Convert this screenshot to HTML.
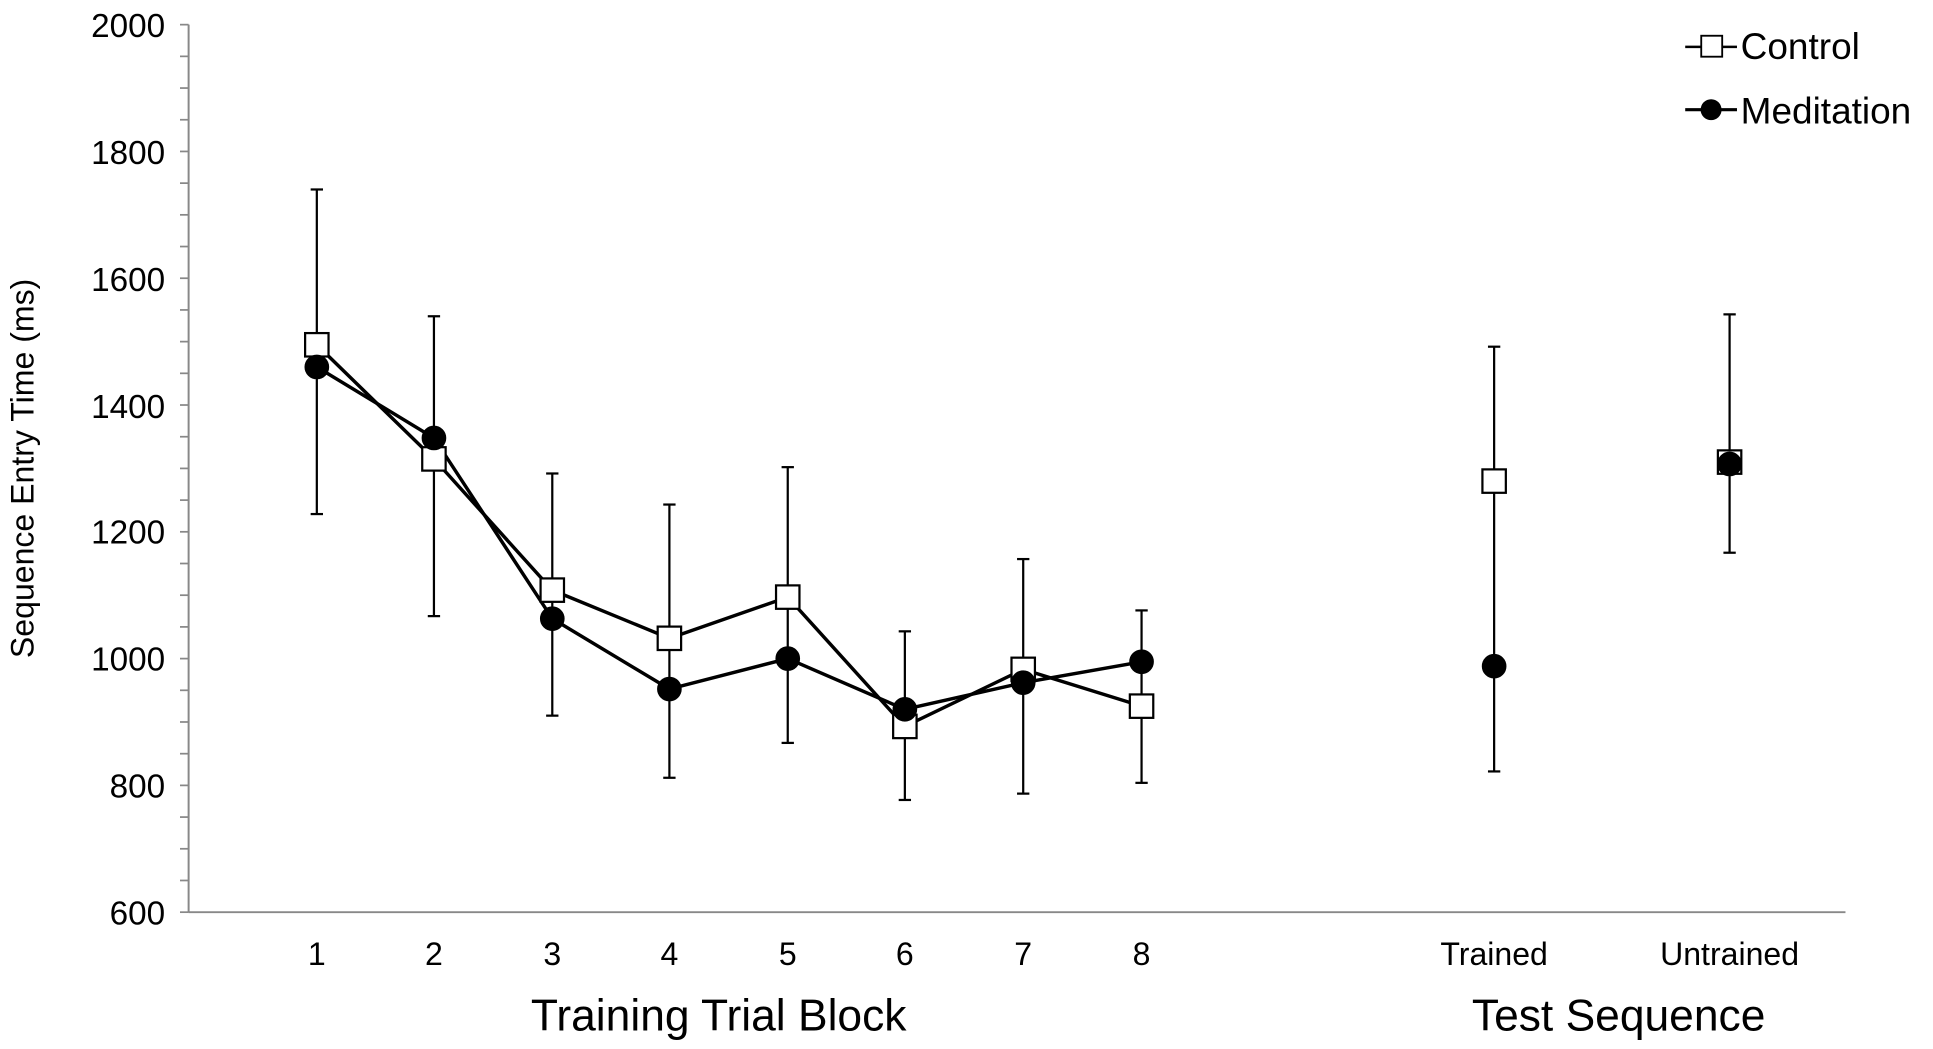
<!DOCTYPE html>
<html><head><style>html,body{margin:0;padding:0;background:#fff;}svg{display:block}</style></head>
<body>
<svg width="1933" height="1049" viewBox="0 0 1568 851" preserveAspectRatio="none" xmlns="http://www.w3.org/2000/svg" font-family="Liberation Sans, Arial, sans-serif">
<g stroke="#888" stroke-width="1.6">
<line x1="153" y1="20" x2="153" y2="740"/>
<line x1="153" y1="740" x2="1497" y2="740"/>
</g>
<g stroke="#888" stroke-width="1.4" id="ticks">
</g>
<g font-size="27" text-anchor="end" fill="#000">
<text x="134" y="30">2000</text><text x="134" y="133">1800</text><text x="134" y="236">1600</text><text x="134" y="339">1400</text><text x="134" y="441">1200</text><text x="134" y="544">1000</text><text x="134" y="647">800</text><text x="134" y="750">600</text>
</g>
<text transform="translate(27,380) rotate(-90)" font-size="26" text-anchor="middle">Sequence Entry Time (ms)</text>
<g font-size="26" text-anchor="middle">
<text x="257" y="783">1</text><text x="352" y="783">2</text><text x="448" y="783">3</text><text x="543" y="783">4</text><text x="639" y="783">5</text><text x="734" y="783">6</text><text x="830" y="783">7</text><text x="926" y="783">8</text>
<text x="1212" y="783">Trained</text><text x="1403" y="783">Untrained</text>
</g>
<g font-size="36" text-anchor="middle">
<text x="583" y="836">Training Trial Block</text>
<text x="1313" y="836">Test Sequence</text>
</g>
<g id="data" stroke="#000" stroke-width="2"></g>
<g font-size="30">
<line x1="1367" y1="38" x2="1409" y2="38" stroke="#000" stroke-width="2"/>
<rect x="1380" y="29" width="17" height="17" fill="#fff" stroke="#000" stroke-width="1.5"/>
<text x="1412" y="48">Control</text>
<line x1="1367" y1="89" x2="1409" y2="89" stroke="#000" stroke-width="2.5"/>
<circle cx="1388" cy="89" r="8.5" fill="#000"/>
<text x="1412" y="100">Meditation</text>
</g>
<script>
var ns="http://www.w3.org/2000/svg";
function Y(v){return 20+(2000-v)*720/1400;}
function el(p,t,a){var e=document.createElementNS(ns,t);for(var k in a)e.setAttribute(k,a[k]);p.appendChild(e);return e;}
var tk=document.getElementById("ticks");
for(var v=600;v<=2000;v+=50){var y=Y(v);el(tk,"line",{x1:146,y1:y,x2:153,y2:y});}
var d=document.getElementById("data");
var xs=[257,352,448,543,639,734,830,926,1212,1403];
var c=[1495,1315,1108,1032,1097,893,983,925,1280,1310];
var m=[1460,1348,1063,952,1000,920,962,995,988,1307];
var top_=[1740,1540,1292,1243,1302,1043,1157,1076,1492,1543];
var bot=[1228,1067,910,812,867,777,787,804,822,1167];
for(var i=0;i<10;i++){
 var x=xs[i];
 el(d,"line",{x1:x,y1:Y(top_[i]),x2:x,y2:Y(bot[i]),"stroke-width":1.8});
 el(d,"line",{x1:x-5,y1:Y(top_[i]),x2:x+5,y2:Y(top_[i]),"stroke-width":1.8});
 el(d,"line",{x1:x-5,y1:Y(bot[i]),x2:x+5,y2:Y(bot[i]),"stroke-width":1.8});
}
var pc="",pm="";
for(var i=0;i<8;i++){pc+=(i?"L":"M")+xs[i]+","+Y(c[i]);pm+=(i?"L":"M")+xs[i]+","+Y(m[i]);}
el(d,"path",{d:pc,fill:"none","stroke-width":2.8});
el(d,"path",{d:pm,fill:"none","stroke-width":2.8});
for(var i=0;i<10;i++){
 el(d,"rect",{x:xs[i]-9.5,y:Y(c[i])-9.5,width:19,height:19,fill:"#fff","stroke-width":1.8});
}
for(var i=0;i<10;i++){
 el(d,"circle",{cx:xs[i],cy:Y(m[i]),r:9,fill:"#000"});
}
</script>
</svg>
</body></html>
